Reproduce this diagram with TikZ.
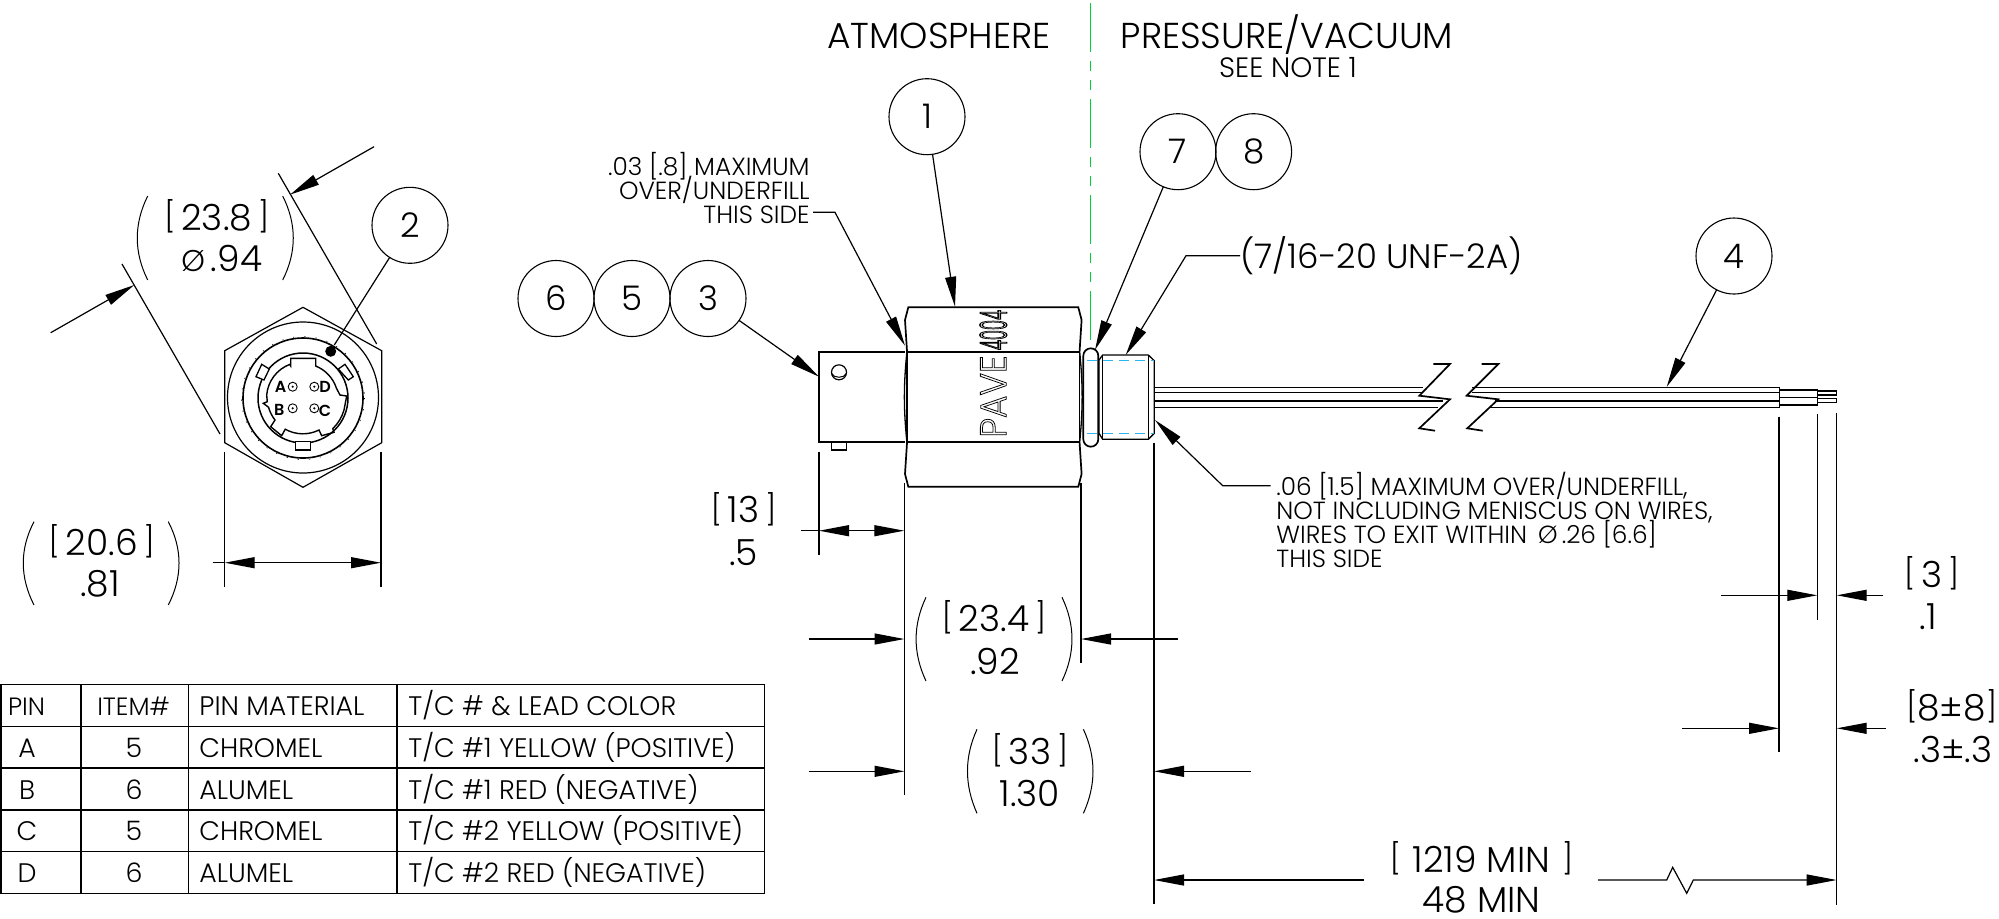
\documentclass[tikz,border=0pt]{standalone}
\usepackage{fontspec}
\setmainfont{Poppins}[UprightFont=* Light,BoldFont=* SemiBold]
\usetikzlibrary{arrows.meta}
\definecolor{CenterGreen}{HTML}{00D23C}
\definecolor{ThreadBlue}{HTML}{29B6F0}
\newcommand{\BrkL}{{\fontsize{15}{15}\selectfont\raisebox{1.2pt}{[}}}
\newcommand{\BrkR}{{\fontsize{15}{15}\selectfont\raisebox{1.2pt}{]}}}
\newcommand{\Brk}[1]{\BrkL\,#1\,\BrkR}

\begin{document}
\begin{tikzpicture}[x=0.5pt,y=-0.5pt]
    \tikzstyle{Balloon} = [
            draw=black,
            line width=0.55pt,
            circle,
            inner sep=0pt,
            outer sep=0pt,
            minimum size=38pt,
            font={\fontsize{17}{17}\selectfont}
    ];
    \tikzstyle{ExtLine} = [
            draw=black,
            line width=0.6pt
    ];
    \tikzstyle{ParenLine} = [
            draw=black,
            line width=0.5pt
    ];
    \tikzstyle{Outline} = [
            draw=black,
            line width=0.85pt
    ];
    \tikzstyle{Leader} = [
            draw=black,
            line width=0.6pt,
            -{Triangle[length=15pt,width=5.5pt]}
    ];
    \tikzstyle{DimText} = [
            inner sep=0pt,
            anchor=base,
            font={\fontsize{18}{18}\selectfont}
    ];
    \tikzstyle{HeadText} = [
            inner sep=0pt,
            anchor=base,
            font={\fontsize{18}{18}\selectfont}
    ];
    \tikzstyle{NoteText} = [
            inner sep=0pt,
            font={\fontsize{12.4}{11.9}\selectfont\lineskiplimit=-20pt}
    ];
    \tikzstyle{TableText} = [
            inner sep=0pt,
            font={\fontsize{13.4}{13.4}\selectfont}
    ];
    \tikzstyle{TableHead} = [
            inner sep=0pt,
            anchor=base,
            font={\fontsize{12.5}{12.5}\selectfont}
    ];
    \tikzstyle{PinText} = [
            inner sep=0pt,
            font={\fontsize{8}{8}\selectfont\bfseries}
    ];
    \tikzstyle{PinDot} = [
            draw=black,
            line width=0.45pt,
            circle,
            inner sep=0pt,
            minimum size=4.5pt
    ];

    \useasboundingbox (0,0) rectangle (1999,918);

    % headings and centre line
    \node[HeadText, name=HeadAtm] at (939,48.5)  {ATMOSPHERE};
    \node[HeadText, name=HeadVac] at (1287,48.5) {PRESSURE/VACUUM};
    \node[HeadText, name=HeadNote, font={\fontsize{14}{14}\selectfont}] at (1288,77.5) {SEE NOTE 1};
    \draw[color=CenterGreen, line width=0.55pt, dash pattern=on 24.5pt off 4.5pt on 5pt off 4.5pt on 5pt off 4.5pt]
        (1090.5,3) -- (1090.5,341);

    % end view
    \draw[Outline, line width=0.6pt] (303,307.3) -- (381.7,350.7) -- (381.7,442.7) -- (303,487.3) -- (224.7,442.7) -- (224.7,350.7) -- cycle;
    \draw[Outline, line width=0.6pt] (303,397.5) circle[radius=75.5];
    \draw[Outline, line width=0.8pt] (303,398) circle[radius=60];
    \draw[line width=0.3pt, dash pattern=on 0.6pt off 5pt] (303,398) circle[radius=61.5];
    \draw[Outline, line width=0.75pt] (303,398) circle[radius=45];
    \draw[Outline, line width=0.65pt, fill=white] (256,376.7) -- (261.7,364.3) -- (269.3,369) -- (264,380) -- cycle;
    \draw[Outline, line width=0.65pt, fill=white] (338.3,369) -- (345,364.3) -- (353.3,376.7) -- (348.3,380) -- cycle;
    \draw[Outline, line width=0.65pt, fill=white] (295.7,441.7) rectangle (310.7,450);
    \draw[Outline, line width=0.7pt] (290.7,366) -- (290.7,358.3) -- (315.7,358.3) -- (315.7,366)
        arc[start angle=-68, end angle=-18, radius=36] -- (340,395) -- (346.7,396) -- (344,410)
        arc[start angle=16, end angle=46, radius=42] -- (334,432.3) -- (321.7,435.7) -- (319,430)
        arc[start angle=63.4, end angle=119.4, radius=36] -- (281.7,435.7) -- (270.7,426.7) -- (275,420)
        arc[start angle=141.8, end angle=164.6, radius=36] -- (263.3,403.3) -- (267.3,401.7) -- (266.7,395)
        arc[start angle=184.8, end angle=249, radius=36] -- cycle;
    \fill (330.7,351.3) circle[radius=5.5];

    \node[PinDot, name=DotA] at (292.7,386.7) {};
    \node[PinDot, name=DotD] at (314.3,386.7) {};
    \node[PinDot, name=DotB] at (292.7,408.3) {};
    \node[PinDot, name=DotC] at (314.3,408.3) {};
    \fill (DotA) circle[radius=1.2] (DotD) circle[radius=1.2] (DotB) circle[radius=1.2] (DotC) circle[radius=1.2];
    \node[PinText, name=PinA] at (280.7,386.7) {A};
    \node[PinText, name=PinD] at (325,386.7)   {D};
    \node[PinText, name=PinB] at (279.3,410)   {B};
    \node[PinText, name=PinC] at (325,410.7)   {C};

    % end view dimensions
    \draw[ExtLine] (278.3,173.3) -- (376.7,344);
    \draw[ExtLine] (122,264) -- (220,434);
    \draw[ExtLine] (224.7,451.7) -- (224.7,587.3);
    \draw[ExtLine] (381,451.7) -- (381,587.3);
    \coordinate (TailFlatA) at (374,146.7);
    \coordinate (TipFlatA)  at (290,194.7);
    \coordinate (TailFlatB) at (50.7,332.7);
    \coordinate (TipFlatB)  at (134.3,285);
    \coordinate (StubHex)   at (212.7,562.7);
    \coordinate (TipHexL)   at (224.7,562.7);
    \coordinate (MidHex)    at (303,562.7);
    \coordinate (TipHexR)   at (381,562.7);
    \path (TailFlatA) edge [Leader] (TipFlatA)
          (TailFlatB) edge [Leader] (TipFlatB)
          (MidHex)    edge [Leader] (TipHexL)
          (MidHex)    edge [Leader] (TipHexR)
          (StubHex)   edge [ExtLine] (TipHexL);
    \node[DimText, name=DimFlatA] at (216.7,230)   {\Brk{23.8}};
    \node[DimText, name=DimFlatB] at (221.7,271.7) {{\fontsize{15}{15}\selectfont Ø}\,.94};
    \node[DimText, name=DimHexA]  at (101.7,555)   {\Brk{20.6}};
    \node[DimText, name=DimHexB]  at (100,596.7)   {.81};
    \draw[ParenLine] (147.7,196) .. controls (133.8,224) and (133.8,252) .. (147.7,280);
    \draw[ParenLine] (282.7,196) .. controls (296.8,224) and (296.8,252) .. (282.7,280);
    \draw[ParenLine] (34,521.7) .. controls (19.7,549) and (19.7,577) .. (34,605);
    \draw[ParenLine] (168.3,521.7) .. controls (182.6,549) and (182.6,577) .. (168.3,605);

    \node[Balloon, name=BalTwo] at (410,225.3) {2};
    \coordinate (TipTwo) at (334.3,345);
    \path (BalTwo) edge [ExtLine] (TipTwo);

    % side view
    \draw[Outline] (905,351.7) -- (819,351.7) -- (819,442.3) -- (905,442.3);
    \draw[Outline, line width=0.6pt] (839,372.3) circle[radius=7.5];
    \draw[Outline, line width=0.5pt] (831.6,373.5) .. controls (834,378.5) and (844,378.5) .. (846.4,373.5);
    \draw[Outline, line width=0.65pt] (831.7,442.3) -- (831.7,450) -- (846.7,450) -- (846.7,442.3);
    \draw[Outline] (907,351.7) -- (1079.6,351.7) (907,442.3) -- (1079.6,442.3);
    \draw[Outline] (907,351) -- (905,320) -- (908.3,307.3) -- (1078.3,307.3) -- (1081.6,320) -- (1079.6,351);
    \draw[Outline] (907,443) -- (905,474) -- (908.3,486.7) -- (1078.3,486.7) -- (1081.6,474) -- (1079.6,443);
    \draw[Outline, line width=0.65pt] (907,351) .. controls (903.5,385) and (903.5,409) .. (907,443);
    \draw[Outline, line width=0.65pt] (907,351) .. controls (907,385) and (907,409) .. (907,443);
    \draw[Outline, line width=0.65pt] (1079.6,351) .. controls (1083,385) and (1083,409) .. (1079.6,443);
    \draw[Outline, line width=0.65pt] (1079.6,351) .. controls (1079.6,385) and (1079.6,409) .. (1079.6,443);
    \node[name=MarkPave, inner sep=0pt, rotate=90, font={\fontsize{18.5}{18.5}\selectfont}] at (993.3,396.5)
        {\scalebox{0.93}[1]{\special{pdf:code 1 Tr 0.4 w}PAVE\special{pdf:code 0 Tr}}};
    \node[name=MarkCode, inner sep=0pt, rotate=90, font={\fontsize{18.5}{18.5}\selectfont}] at (993.3,330)
        {\scalebox{0.44}[1]{\special{pdf:code 1 Tr 0.7 w}4004\special{pdf:code 0 Tr}}};

    \draw[Outline] (1083.3,355.8) arc[start angle=180, end angle=360, radius=7.5] -- (1098.3,439.2)
        arc[start angle=0, end angle=180, radius=7.5] -- cycle;
    \draw[Outline, line width=0.65pt] (1099,360) -- (1102.7,355) -- (1148.3,355) -- (1154.3,360.7) -- (1154.3,433.3) -- (1148.3,439.3) -- (1102.7,439.3) -- (1099,433.3) -- cycle;
    \draw[Outline, line width=0.65pt] (1102.7,355) -- (1102.7,439.3) (1148.3,355) -- (1148.3,439.3);
    \draw[color=ThreadBlue, line width=0.6pt, dash pattern=on 5pt off 3pt] (1086.7,360.7) -- (1154.3,360.7);
    \draw[color=ThreadBlue, line width=0.6pt, dash pattern=on 5pt off 3pt] (1086.7,433.3) -- (1154.3,433.3);

    % wires
    \draw[Outline, line width=0.7pt] (1155,387.7) -- (1423,387.7) (1155,392.7) -- (1423,392.7)
        (1155,401) -- (1443,401) (1155,407.3) -- (1438,407.3);
    \draw[Outline, line width=0.7pt] (1472,387.7) -- (1779.3,387.7) -- (1779.3,407.3) -- (1490,407.3);
    \draw[Outline, line width=0.7pt] (1472,392.7) -- (1779.3,392.7) (1495,401) -- (1779.3,401);
    \draw[Outline, line width=0.65pt] (1779.3,390) -- (1817.7,390) -- (1817.7,405) -- (1779.3,405) (1779.3,397.3) -- (1817.7,397.3);
    \draw[Outline, line width=0.55pt] (1817.7,391) -- (1836.7,391) -- (1836.7,395) -- (1817.7,395);
    \draw[Outline, line width=0.55pt] (1817.7,398.3) -- (1836.7,398.3) -- (1836.7,402.7) -- (1817.7,402.7);
    \draw[Outline] (1433.3,364) -- (1450,364) -- (1419.3,395.7) -- (1450,399.3) -- (1419.3,428.3) -- (1435,430.7);
    \draw[Outline] (1481.7,364) -- (1498.3,364) -- (1466.7,395.7) -- (1498.3,399.3) -- (1467.3,428.3) -- (1482.7,430.7);

    % balloons
    \node[Balloon, name=BalOne]   at (927,116.7)  {1};
    \node[Balloon, name=BalSeven] at (1178,151.7) {7};
    \node[Balloon, name=BalEight] at (1253.6,151.7) {8};
    \node[Balloon, name=BalSix]   at (556,298.5)  {6};
    \node[Balloon, name=BalFive]  at (632,298.5)  {5};
    \node[Balloon, name=BalThree] at (708,298.5)  {3};
    \node[Balloon, name=BalFour]  at (1734,256)   {4};
    \coordinate (TipOne)   at (955,306.7);
    \coordinate (TipSeven) at (1095,350);
    \coordinate (TipThree) at (819,376.7);
    \coordinate (TipFour)  at (1666.7,387);
    \path (BalOne)   edge [Leader] (TipOne)
          (BalSeven) edge [Leader] (TipSeven)
          (BalThree) edge [Leader] (TipThree)
          (BalFour)  edge [Leader] (TipFour);

    % notes
    \node[NoteText, name=NoteFill, align=right, anchor=north east] at (810,152)
        {.03 [.8] MAXIMUM\\OVER/UNDERFILL\\THIS SIDE};
    \coordinate (NoteFillEnd) at (813,212.3);
    \coordinate (KneeFill)    at (835,212.3);
    \coordinate (TipFill)     at (905,345.7);
    \draw[Leader] (NoteFillEnd) -- (KneeFill) -- (TipFill);
    \node[name=NoteThread, inner sep=0pt, anchor=base west, font={\fontsize{17}{17}\selectfont}] at (1240,268) {(7/16-20 UNF-2A)};
    \coordinate (ThreadEnd)  at (1240,255.7);
    \coordinate (KneeThread) at (1186,255.7);
    \coordinate (TipThread)  at (1125.7,355);
    \draw[Leader] (ThreadEnd) -- (KneeThread) -- (TipThread);
    \node[NoteText, name=NoteWire, align=left, anchor=north west] at (1276,472)
        {.06 [1.5] MAXIMUM OVER/UNDERFILL,\\NOT INCLUDING MENISCUS ON WIRES,\\WIRES TO EXIT WITHIN \,\smash{Ø}\,.26 [6.6]\\THIS SIDE};
    \coordinate (WireEnd)  at (1270.5,485.7);
    \coordinate (KneeWire) at (1222.7,485.7);
    \coordinate (TipWire)  at (1155,420);
    \draw[Leader] (WireEnd) -- (KneeWire) -- (TipWire);

    % side view dimensions
    \draw[ExtLine] (819,451.7) -- (819,555);
    \draw[ExtLine] (904.5,482.7) -- (904.5,795);
    \draw[ExtLine] (1081,482.7) -- (1081,662.7);
    \draw[ExtLine] (1154,443.3) -- (1154,904.3);
    \draw[ExtLine] (1779,416.7) -- (1779,751.7);
    \draw[ExtLine] (1817.3,414) -- (1817.3,620);
    \draw[ExtLine] (1836.7,412.7) -- (1836.7,905);

    \coordinate (TailPlug)  at (801,530.7);
    \coordinate (TipPlugL)  at (819,530.7);
    \coordinate (MidPlug)   at (862,530.7);
    \coordinate (TipPlugR)  at (904.3,530.7);
    \coordinate (TailNutL)  at (808.6,639);
    \coordinate (TipNutL)   at (904.5,639);
    \coordinate (TailNutR)  at (1178,639);
    \coordinate (TipNutR)   at (1081,639);
    \coordinate (TailLenL)  at (808.6,771.3);
    \coordinate (TipLenL)   at (904.5,771.3);
    \coordinate (TailLenR)  at (1250.6,771.3);
    \coordinate (TipLenR)   at (1154,771.3);
    \coordinate (TailTotL)  at (1364,880);
    \coordinate (TipTotL)   at (1154,880);
    \coordinate (TailTotR)  at (1598,880);
    \coordinate (ZigOne)    at (1666.7,880);
    \coordinate (ZigTwo)    at (1672.7,867.3);
    \coordinate (ZigThree)  at (1686.7,893.3);
    \coordinate (ZigFour)   at (1693.3,880);
    \coordinate (TipTotR)   at (1836.7,880);
    \coordinate (TailStripA) at (1721,595.3);
    \coordinate (TipStripA)  at (1817.3,595.3);
    \coordinate (TailStripB) at (1883.3,595.3);
    \coordinate (TipStripB)  at (1836.7,595.3);
    \coordinate (TailJacketA) at (1682.3,728.3);
    \coordinate (TipJacketA)  at (1779,728.3);
    \coordinate (TailJacketB) at (1885.7,728.3);
    \coordinate (TipJacketB)  at (1836.7,728.3);
    \path (TailPlug)    edge [ExtLine] (TipPlugL)
          (MidPlug)     edge [Leader]  (TipPlugL)
          (MidPlug)     edge [Leader]  (TipPlugR)
          (TailNutL)    edge [Leader]  (TipNutL)
          (TailNutR)    edge [Leader]  (TipNutR)
          (TailLenL)    edge [Leader]  (TipLenL)
          (TailLenR)    edge [Leader]  (TipLenR)
          (TailTotL)    edge [Leader]  (TipTotL)
          (TailStripA)  edge [Leader]  (TipStripA)
          (TailStripB)  edge [Leader]  (TipStripB)
          (TailJacketA) edge [Leader]  (TipJacketA)
          (TailJacketB) edge [Leader]  (TipJacketB);
    \draw[Leader] (TailTotR) -- (ZigOne) -- (ZigTwo) -- (ZigThree) -- (ZigFour) -- (TipTotR);

    \node[DimText, name=DimPlugA]  at (743.6,522.7) {\Brk{13}};
    \node[DimText, name=DimPlugB]  at (743.6,565)   {.5};
    \node[DimText, name=DimNutA]   at (994,631)     {\Brk{23.4}};
    \node[DimText, name=DimNutB]   at (995,674)     {.92};
    \node[DimText, name=DimLenA]   at (1030,764.3)  {\Brk{33}};
    \node[DimText, name=DimLenB]   at (1030,806)    {1.30};
    \node[DimText, name=DimStripA] at (1931.7,587.3) {\Brk{3}};
    \node[DimText, name=DimStripB] at (1928,629.3)  {.1};
    \node[DimText, name=DimJackA]  at (1951.7,720)  {\BrkL 8±8\BrkR};
    \node[DimText, name=DimJackB]  at (1953,762.7)  {.3±.3};
    \node[DimText, name=DimTotA]   at (1481.5,872)  {\Brk{\,1219 MIN\,}};
    \node[DimText, name=DimTotB]   at (1481.5,912.5) {48 MIN};
    \draw[ParenLine] (926,597.3) .. controls (912.8,625) and (912.8,653) .. (926,681);
    \draw[ParenLine] (1062,597.3) .. controls (1075.3,625) and (1075.3,653) .. (1062,681);
    \draw[ParenLine] (977,729.3) .. controls (964.3,757) and (964.3,785) .. (977,813.3);
    \draw[ParenLine] (1083.4,729.3) .. controls (1096.2,757) and (1096.2,785) .. (1083.4,813.3);

    % pin table
    \draw[Outline, line width=0.7pt] (1,684.7) rectangle (764.6,893.3);
    \draw[ExtLine, line width=0.65pt] (1,726.7) -- (764.6,726.7) (1,768) -- (764.6,768) (1,810) -- (764.6,810) (1,851.7) -- (764.6,851.7);
    \draw[ExtLine, line width=0.65pt] (81,684.7) -- (81,893.3) (188.6,684.7) -- (188.6,893.3) (397,684.7) -- (397,893.3);
    \node[TableHead, name=HeadPin]  at (26.6,715)  {PIN};
    \node[TableHead, name=HeadItem] at (133.6,715) {ITEM\#};
    \node[TableText, name=HeadMat,  anchor=base west] at (199,715)  {PIN MATERIAL};
    \node[TableText, name=HeadLead, anchor=base west] at (408,715)  {T/C \# \& LEAD COLOR};
    \node[TableText, name=RowAPin,  anchor=base] at (27,757.3)      {A};
    \node[TableText, name=RowAItem, anchor=base] at (134,757.3)     {5};
    \node[TableText, name=RowAMat,  anchor=base west] at (199,757.3) {CHROMEL};
    \node[TableText, name=RowALead, anchor=base west] at (408,757.3) {T/C \#1 YELLOW (POSITIVE)};
    \node[TableText, name=RowBPin,  anchor=base] at (27,799.3)      {B};
    \node[TableText, name=RowBItem, anchor=base] at (134,799.3)     {6};
    \node[TableText, name=RowBMat,  anchor=base west] at (199,799.3) {ALUMEL};
    \node[TableText, name=RowBLead, anchor=base west] at (408,799.3) {T/C \#1 RED (NEGATIVE)};
    \node[TableText, name=RowCPin,  anchor=base] at (27,840.7)      {C};
    \node[TableText, name=RowCItem, anchor=base] at (134,840.7)     {5};
    \node[TableText, name=RowCMat,  anchor=base west] at (199,840.7) {CHROMEL};
    \node[TableText, name=RowCLead, anchor=base west] at (408,840.7) {T/C \#2 YELLOW (POSITIVE)};
    \node[TableText, name=RowDPin,  anchor=base] at (27,882.7)      {D};
    \node[TableText, name=RowDItem, anchor=base] at (134,882.7)     {6};
    \node[TableText, name=RowDMat,  anchor=base west] at (199,882.7) {ALUMEL};
    \node[TableText, name=RowDLead, anchor=base west] at (408,882.7) {T/C \#2 RED (NEGATIVE)};
\end{tikzpicture}
\end{document}
